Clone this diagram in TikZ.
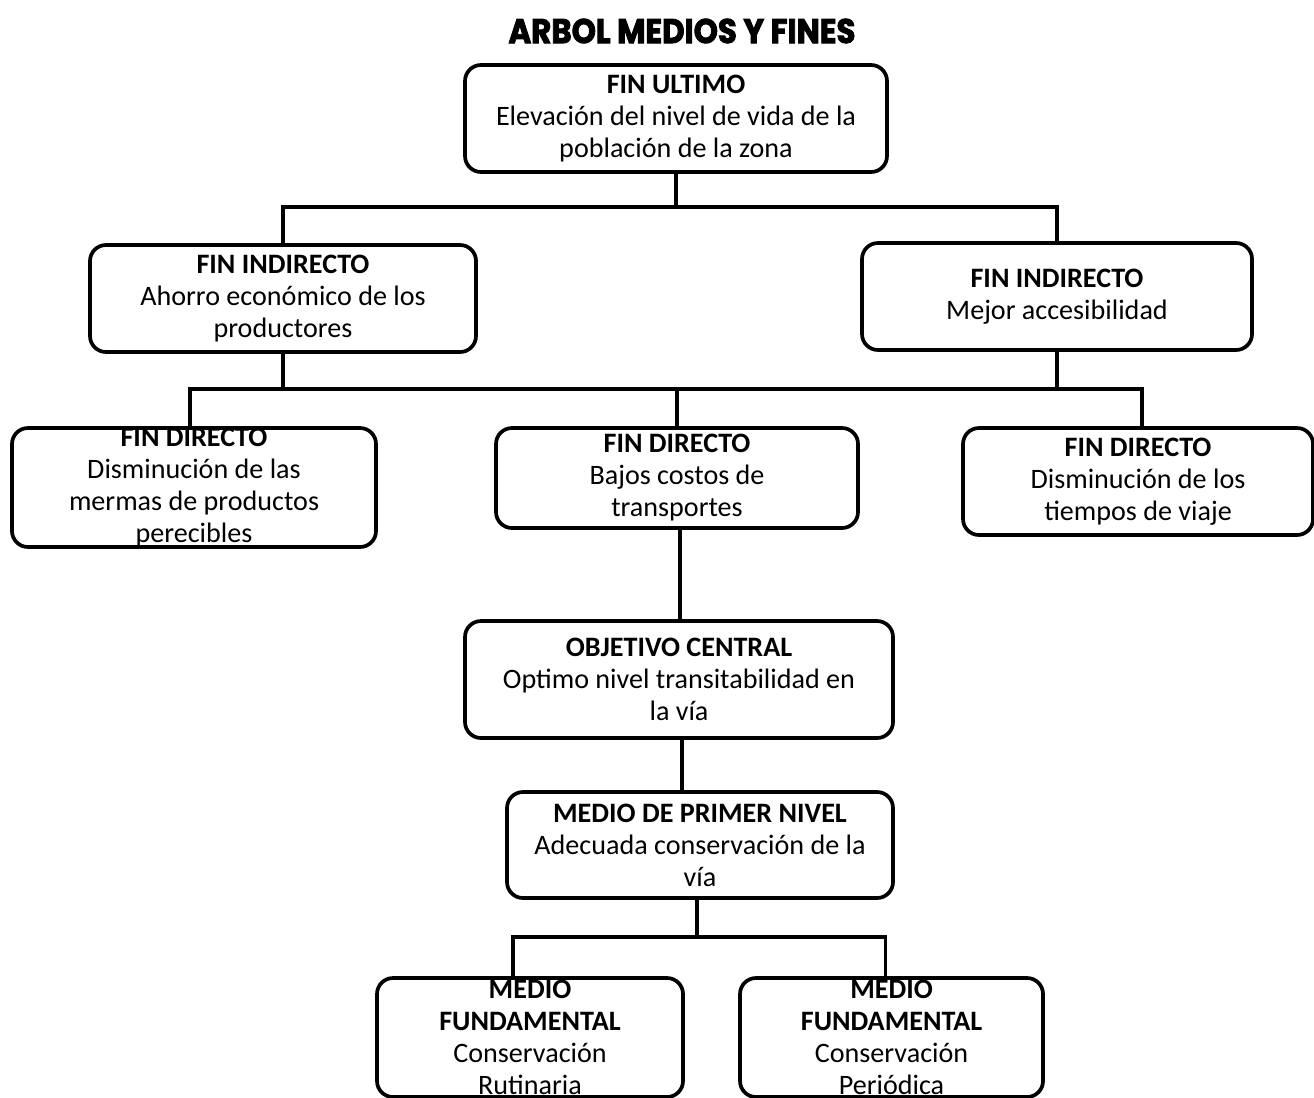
\documentclass[tikz,border=0pt]{standalone}
\usepackage{fontspec}
\setmainfont{Carlito}
\newfontfamily\titlefont{Poppins}[FakeStretch=0.9, FakeBold=2.5]
\usetikzlibrary{positioning}

\tikzset{
  box/.style={draw, line width=2.1pt, rounded corners=0.32cm, align=center,
    inner sep=0pt, font=\fontsize{16}{18.2}\selectfont},
  link/.style={line width=2.1pt},
}

\begin{document}
\begin{tikzpicture}
    \useasboundingbox (0,0) rectangle (26.28,-21.94);

    % title
    \node[font=\titlefont\bfseries\fontsize{19.5}{22}\selectfont] (title) at (13.64,-0.62) {ARBOL MEDIOS Y FINES};

    % fines
    \node[box, minimum width=8.44cm, minimum height=2.14cm] (fu) at (13.52,-2.37)
        {\textbf{FIN ULTIMO}\\Elevación del nivel de vida de la\\población de la zona};
    \node[box, minimum width=7.72cm, minimum height=2.14cm] (fi1) at (5.66,-5.97)
        {\textbf{FIN INDIRECTO}\\Ahorro económico de los\\productores};
    \node[box, minimum width=7.8cm, minimum height=2.14cm] (fi2) at (21.14,-5.93)
        {\textbf{FIN INDIRECTO}\\Mejor accesibilidad};
    \node[box, minimum width=7.28cm, minimum height=2.38cm] (fd1) at (3.88,-9.75)
        {\textbf{FIN DIRECTO}\\Disminución de las\\mermas de productos\\perecibles};
    \node[box, minimum width=7.24cm, minimum height=2.0cm] (fd2) at (13.54,-9.56)
        {\textbf{FIN DIRECTO}\\Bajos costos de\\transportes};
    \node[box, minimum width=7.0cm, minimum height=2.14cm] (fd3) at (22.76,-9.63)
        {\textbf{FIN DIRECTO}\\Disminución de los\\tiempos de viaje};

    % objetivo y medios
    \node[box, minimum width=8.56cm, minimum height=2.34cm] (oc) at (13.58,-13.59)
        {\textbf{OBJETIVO CENTRAL}\\Optimo nivel transitabilidad en\\la vía};
    \node[box, minimum width=7.72cm, minimum height=2.12cm] (mpn) at (14.0,-16.9)
        {\textbf{MEDIO DE PRIMER NIVEL}\\Adecuada conservación de la\\vía};
    \node[box, minimum width=6.12cm, minimum height=2.38cm] (mf1) at (10.6,-20.75)
        {\textbf{MEDIO}\\\textbf{FUNDAMENTAL}\\Conservación\\Rutinaria};
    \node[box, minimum width=6.06cm, minimum height=2.38cm] (mf2) at (17.83,-20.75)
        {\textbf{MEDIO}\\\textbf{FUNDAMENTAL}\\Conservación\\Periódica};

    % buses
    \coordinate (bus1) at (0,-4.14);
    \coordinate (bus2) at (0,-7.78);
    \coordinate (bus3) at (0,-18.74);

    % connectors
    \draw[link] (fu.south) -- (fu.south |- bus1);
    \draw[link] (fi1.north) |- (fu.south |- bus1) -| (fi2.north);
    \draw[link] (fi1.south) -- (fi1.south |- bus2);
    \draw[link] (fi2.south) -- (fi2.south |- bus2);
    \draw[link] ([xshift=-0.08cm]fd1.north) |- ([xshift=0.08cm]fd3.north |- bus2) -- ([xshift=0.08cm]fd3.north);
    \draw[link] (fd2.north) -- (fd2.north |- bus2);
    \draw[link] ([xshift=0.06cm]fd2.south) -- ([xshift=0.06cm]fd2.south |- oc.north);
    \draw[link] ([xshift=0.06cm]oc.south) -- ([xshift=0.06cm]oc.south |- mpn.north);
    \draw[link] ([xshift=-0.06cm]mpn.south) -- ([xshift=-0.06cm]mpn.south |- bus3);
    \draw[link] ([xshift=-0.34cm]mf1.north) |- ([xshift=-0.12cm]mf2.north |- bus3) -- ([xshift=-0.12cm]mf2.north);
\end{tikzpicture}
\end{document}
